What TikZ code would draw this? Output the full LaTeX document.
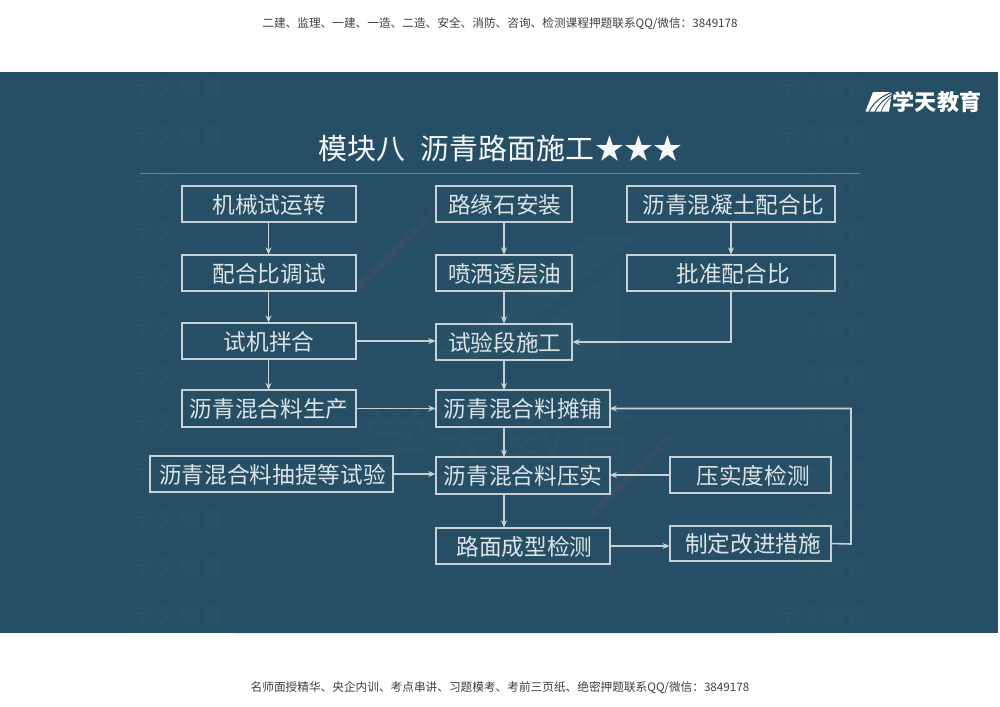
\documentclass[tikz,border=0pt]{standalone}
\usepackage{fontspec}
\setmainfont{Noto Sans CJK SC}
\usetikzlibrary{arrows.meta,calc}
\definecolor{banner}{HTML}{264F66}
\definecolor{wmark}{HTML}{2B5368}
\definecolor{wmarkb}{HTML}{2A5267}
\definecolor{linecol}{HTML}{C6D0D5}
\definecolor{textcol}{HTML}{DDE3E6}
\definecolor{redmark}{HTML}{4A4F66}
\tikzset{
  x=0.75pt,y=-0.75pt,
  flowbox/.style={draw=linecol,line width=1.5pt,text=textcol,inner sep=0pt,outer sep=0pt,text height=15.5pt,text depth=1.6pt,font=\fontsize{17}{17}\selectfont,execute at begin node={\hspace{1.2pt}}},
  tshift/.style={execute at begin node={\hspace{#1}}},
  flow/.style={draw=linecol,line width=1.2pt,-{Stealth[length=5.5pt,width=4.5pt]}},
  wm/.style={text=wmark,inner sep=0pt,font=\fontsize{17.5}{17.5}\selectfont},
  page/.style={text=black!75,inner sep=0pt,font=\fontsize{8.75}{8.75}\selectfont},
  redwm/.style={text=redmark,inner sep=0pt,font=\fontsize{7}{7}\selectfont},
}
\begin{document}
\begin{tikzpicture}
\useasboundingbox (0,0) rectangle (1000,707);
\fill[white] (0,0) rectangle (1000,707);
\fill[banner] (0,72) rectangle (998,633);
% repeating watermarks
\foreach \yy in {88,136,184,232,280,328,376,424,472,520,568,616}{
  \node[wm] (wl\yy) at (178,\yy) {学天教育};
  \node[wm] (wr\yy) at (823,\yy) {学天教育};
}
\fill[banner] (175,175) -- (805,175) -- (805,600) -- (775,600) -- (775,633) -- (235,633) -- (235,500) -- (175,500) -- cycle;
% faint centre watermark
\node[text=wmarkb,inner sep=0pt,font=\fontsize{52}{52}\selectfont] (wc) at (500,440) {学天教育};
\fill[wmarkb] (430,360) -- (590,235) -- (640,235) -- (480,360) -- cycle;
\fill[wmarkb] (500,360) -- (620,265) -- (620,360) -- cycle;
% fine diagonal marks
\node[redwm,rotate=45] (r1) at (398,249) {名师押题联系微信3849178};
\node[redwm,rotate=45] (r2) at (630,477) {名师押题联系微信3849178};
% page header and footer
\node[page] (head) at (500,23.5) {二建、监理、一建、一造、二造、安全、消防、咨询、检测课程押题联系QQ/微信：3849178};
\node[page] (foot) at (500,688) {名师面授精华、央企内训、考点串讲、习题模考、考前三页纸、绝密押题联系QQ/微信：3849178};
% logo
\fill[white] (873,92) -- (892,92) -- (889,111.5) -- (865.5,111.5) -- cycle;
\draw[banner,line width=.8pt] (869,112) .. controls (873,103) and (881,96) .. (893,92);
\draw[banner,line width=.7pt] (875,112) .. controls (878,105) and (884,99) .. (893,94);
\draw[banner,line width=.5pt] (881,112) .. controls (883,106) and (887,100) .. (893,96);
\node[text=white,inner sep=0pt,font=\fontsize{16.6}{16.6}\selectfont\bfseries] (logo) at (937,101.5) {学天教育};
% title
\node[text=white!96!banner,inner sep=0pt,anchor=west,font=\fontsize{21.7}{21.7}\selectfont] (title) at (318,148.5) {模块八\hspace{11.5pt}沥青路面施工\hspace{1pt}★★★};
\draw[line width=.6pt,draw=white!30!banner] (140,173) coordinate (ruleA) -- (860,173) coordinate (ruleB);
% boxes
\node[flowbox,minimum width=130.5pt,minimum height=27.5pt] (a1) at (268.5,204) {机械试运转};
\node[flowbox,minimum width=130.5pt,minimum height=27.5pt] (a2) at (268.5,273) {配合比调试};
\node[flowbox,minimum width=130.5pt,minimum height=27.5pt] (a3) at (268.5,341) {试机拌合};
\node[flowbox,minimum width=130.5pt,minimum height=27.5pt] (a4) at (268.5,408.5) {沥青混合料生产};
\node[flowbox,minimum width=182pt,minimum height=27.5pt] (a5) at (271.75,474) {沥青混合料抽提等试验};
\node[flowbox,minimum width=102.5pt,minimum height=27.5pt] (c1) at (504,204) {路缘石安装};
\node[flowbox,minimum width=102.5pt,minimum height=27.5pt] (c2) at (504,273) {喷洒透层油};
\node[flowbox,minimum width=102.5pt,minimum height=27.5pt] (c3) at (504,342) {试验段施工};
\node[flowbox,minimum width=130.5pt,minimum height=27.5pt] (c4) at (522.5,408.5) {沥青混合料摊铺};
\node[flowbox,minimum width=130.5pt,minimum height=27.5pt] (c5) at (522.5,475.5) {沥青混合料压实};
\node[flowbox,tshift=2pt,minimum width=130.5pt,minimum height=27.5pt] (c6) at (522.5,546) {路面成型检测};
\node[flowbox,tshift=2pt,minimum width=156.5pt,minimum height=27.5pt] (d1) at (731,204) {沥青混凝土配合比};
\node[flowbox,tshift=2pt,minimum width=156.5pt,minimum height=27.5pt] (d2) at (731,273) {批准配合比};
\node[flowbox,tshift=3pt,minimum width=121pt,minimum height=27.5pt] (e1) at (750.5,475) {压实度检测};
\node[flowbox,tshift=3pt,minimum width=121pt,minimum height=26.5pt] (e2) at (750.5,543.5) {制定改进措施};
% connectors
\draw[flow] (a1) -- (a2);
\draw[flow] (a2) -- (a3);
\draw[flow] (a3) -- (a4);
\draw[flow] (c1) -- (c2);
\draw[flow] (c2) -- (c3);
\draw[flow] (d1) -- (d2);
\draw[flow] (c3.south) -- (c3.south |- c4.north);
\draw[flow] (c3.south |- c4.south) -- (c3.south |- c5.north);
\draw[flow] (c3.south |- c5.south) -- (c3.south |- c6.north);
\draw[flow] (a3.east) -- (a3.east -| c3.west);
\draw[flow] (a4.east) -- (c4.west |- a4.east);
\draw[flow] (a5.east) -- (c5.west |- a5.east);
\draw[flow] (e1.west) -- (c5.east |- e1.west);
\draw[flow] (c6.east) -- (e2.west |- c6.east);
\draw[flow] (d2.south) |- (c3.east);
\coordinate (back) at (851,544);
\draw[flow] (e2.east) -- (back) |- (c4.east);
\end{tikzpicture}
\end{document}
